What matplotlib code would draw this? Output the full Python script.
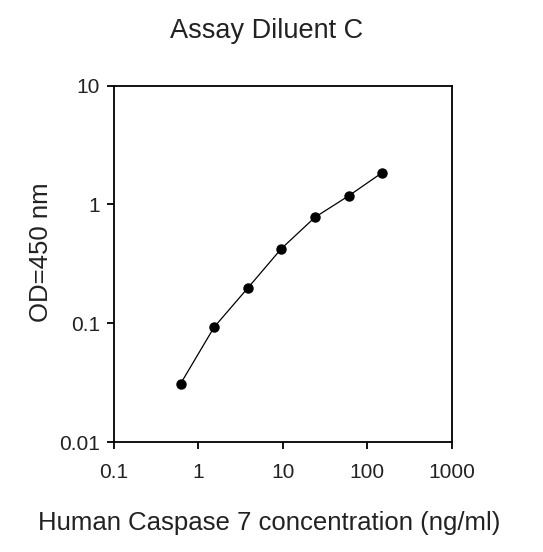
import matplotlib
matplotlib.use("Agg")
import matplotlib.pyplot as plt
from matplotlib.ticker import FixedLocator, FixedFormatter, NullLocator

plt.rcParams['font.family'] = ['Liberation Sans', 'DejaVu Sans']

# standard curve: 2.5-fold dilutions
conc = [0.614, 1.536, 3.84, 9.6, 24, 60, 150]
od = [0.031, 0.093, 0.198, 0.425, 0.78, 1.18, 1.85]

xticks = [0.1, 1, 10, 100, 1000]
xticklabels = ["0.1", "1", "10", "100", "1000"]
yticks = [0.01, 0.1, 1, 10]
yticklabels = ["0.01", "0.1", "1", "10"]

fig = plt.figure(figsize=(5.43, 5.52), dpi=100)
ax = fig.add_axes([0.21, 0.199, 0.622, 0.646])

ax.plot(conc, od, color="black", lw=0.9, marker="o", ms=6.5,
        markerfacecolor="black", markeredgecolor="black")

ax.set_xscale("log")
ax.set_yscale("log")
ax.set_xlim(0.1, 1000)
ax.set_ylim(0.01, 10)

ax.xaxis.set_major_locator(FixedLocator(xticks))
ax.xaxis.set_major_formatter(FixedFormatter(xticklabels))
ax.yaxis.set_major_locator(FixedLocator(yticks))
ax.yaxis.set_major_formatter(FixedFormatter(yticklabels))
ax.xaxis.set_minor_locator(NullLocator())
ax.yaxis.set_minor_locator(NullLocator())

ax.tick_params(axis="both", direction="out", length=5, width=1.3,
               labelsize=15, colors="black", labelcolor="#222222")
ax.tick_params(axis="x", pad=10)
ax.tick_params(axis="y", pad=5)
for s in ax.spines.values():
    s.set_linewidth(1.3)

fig.text(0.49, 0.943, "Assay Diluent C", ha="center", va="center",
         fontsize=19.5, color="#222222")
fig.text(0.495, 0.053, "Human Caspase 7 concentration (ng/ml)", ha="center",
         va="center", fontsize=18.5, color="#222222")
fig.text(0.076, 0.543, "OD=450 nm", ha="center", va="center",
         rotation=90, fontsize=18.5, color="#222222")

fig.savefig("out.png", dpi=100, facecolor="white")
